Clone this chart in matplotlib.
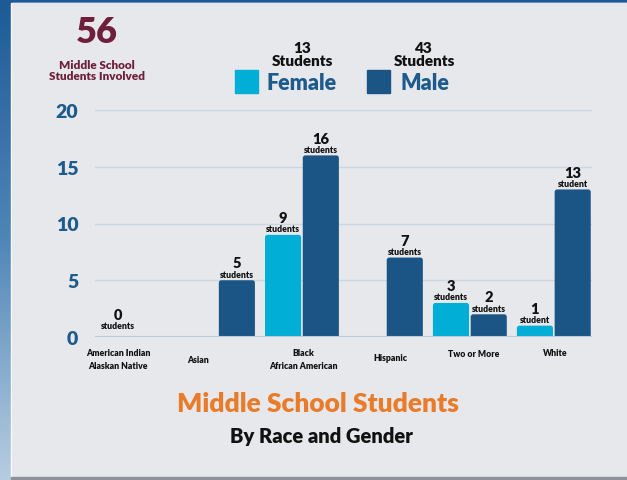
import matplotlib.pyplot as plt
import numpy as np
from matplotlib.patches import Rectangle, FancyBboxPatch

plt.rcParams['font.family'] = ['Lato', 'DejaVu Sans']

# data
categories = ['American Indian\nAlaskan Native', 'Asian', 'Black\nAfrican American',
              'Hispanic', 'Two or More', 'White']
female = [0, 0, 9, 0, 3, 1]
male = [0, 5, 16, 7, 2, 13]
female_total = 13
male_total = 43
total = 56

c_female = '#00aed6'
c_male = '#1a5585'
c_axis = '#1d5b8c'
c_bg = '#e7e8ec'
HW = 'heavy'

fig = plt.figure(figsize=(6.27, 4.81), dpi=100, facecolor=c_bg)

# blue slide frame on the left / top, shadow at the bottom
grad = np.linspace(0, 1, 256).reshape(-1, 1)
bgax = fig.add_axes([0, 0, 1, 1], zorder=-10)
bgax.imshow(grad, aspect='auto', extent=[0, 1, 0, 1], origin='upper',
            cmap=plt.matplotlib.colors.LinearSegmentedColormap.from_list(
                'f', ['#1d5a96', '#4f86b8', '#b7cde0']))
bgax.add_patch(Rectangle((11 / 627, 3 / 481), 1, 1 - 7 / 481, color='white'))
bgax.add_patch(Rectangle((12 / 627, 3 / 481), 1, 1 - 7 / 481, color=c_bg))
bgax.add_patch(Rectangle((11 / 627, 0), 1, 3 / 481, color='#8e9298'))
bgax.set_xlim(0, 1)
bgax.set_ylim(0, 1)
bgax.axis('off')

ax = fig.add_axes([95 / 627, 1 - 338 / 481, 497 / 627, 227 / 481])
ax.set_facecolor('none')

x = np.arange(len(categories))
w = 0.43
off = 0.225
bars_f = ax.bar(x - off, female, w, color=c_female, zorder=3)
bars_m = ax.bar(x + off, male, w, color=c_male, zorder=3)

ax.set_xlim(-0.465, 5.455)
ax.set_ylim(0, 20)

# slightly rounded bar tops
asp = (20 / 227) / (5.92 / 497)
for b in list(bars_f) + list(bars_m):
    if b.get_height() <= 0:
        continue
    b.set_visible(False)
    r = 0.03
    p = FancyBboxPatch((b.get_x() + r, b.get_y()), b.get_width() - 2 * r,
                       b.get_height() - r * asp,
                       boxstyle=f'round,pad={r}', mutation_aspect=asp,
                       fc=b.get_facecolor(), ec='none', zorder=3)
    ax.add_patch(p)

ax.set_yticks([0, 5, 10, 15, 20])
ax.tick_params(axis='y', length=0, labelsize=14, labelcolor=c_axis, pad=12)
for t in ax.get_yticklabels():
    t.set_fontweight(HW)
ax.set_xticks([])
for s in ax.spines.values():
    s.set_visible(False)
ax.grid(axis='y', color='#cdd5de', lw=1, zorder=0)
ax.axhline(0, color='#b9cde0', lw=1.5, zorder=4)


def label(xpos, v):
    word = 'student' if v == 1 or v == 13 else 'students'
    ax.annotate(str(v), (xpos, v), xytext=(0, 12.5), textcoords='offset points',
                ha='center', va='center', fontsize=10.5, fontweight=HW,
                color='#111111', annotation_clip=False)
    ax.annotate(word, (xpos, v), xytext=(0, 4.5), textcoords='offset points',
                ha='center', va='center', fontsize=6.2, fontweight=HW,
                color='#111111', annotation_clip=False)


for i in range(len(categories)):
    if female[i] > 0:
        label(x[i] - off, female[i])
    if male[i] > 0:
        label(x[i] + off, male[i])
    if female[i] == 0 and male[i] == 0:
        ax.annotate('0', (x[i] - 0.19, 0), xytext=(0, 16), textcoords='offset points',
                    ha='center', va='center', fontsize=10.5, fontweight=HW,
                    color='#111111', annotation_clip=False)
        ax.annotate('students', (x[i] - 0.19, 0), xytext=(0, 8),
                    textcoords='offset points', ha='center', va='center',
                    fontsize=6.2, fontweight=HW, color='#111111',
                    annotation_clip=False)

# category names under the axis
shift = [-0.19, -0.24, 0.02, 0.05, 0.04, 0.02]
drop = [16, 16, 16, 15, 12, 11]
for i, name in enumerate(categories):
    ax.annotate(name, (x[i] + shift[i], 0), xytext=(0, -drop[i]),
                textcoords='offset points', ha='center', va='center',
                fontsize=6.2, fontweight=HW, color='#111111',
                linespacing=1.6, annotation_clip=False)

# headline number
fig.text(97 / 627, 1 - 33 / 481, str(total), ha='center', va='center',
         fontsize=26, fontweight=HW, color='#6e1f3a')
fig.text(97 / 627, 1 - 71 / 481, 'Middle School\nStudents Involved', ha='center',
         va='center', fontsize=8.5, fontweight=HW, color='#6e1f3a',
         linespacing=1.1)

# legend
for sq, tx, cx, col, name, n in [(235, 267, 302, c_female, 'Female', female_total),
                                 (367, 400, 424, c_male, 'Male', male_total)]:
    fig.patches.append(Rectangle((sq / 627, 1 - 94 / 481), 23 / 627, 23 / 481,
                                 color=col, transform=fig.transFigure, figure=fig))
    fig.text(tx / 627, 1 - 83 / 481, name, ha='left', va='center', fontsize=15.5,
             fontweight=HW, color=c_axis)
    fig.text(cx / 627, 1 - 55 / 481, f'{n}\nStudents', ha='center', va='center',
             fontsize=11, fontweight=HW, color='#111111', linespacing=1.0)

fig.text(318 / 627, 1 - 404 / 481, 'Middle School Students', ha='center',
         va='center', fontsize=19, fontweight=HW, color='#e87c2a')
fig.text(321 / 627, 1 - 436 / 481, 'By Race and Gender', ha='center',
         va='center', fontsize=14.5, fontweight=HW, color='#111111')

fig.savefig('out.png', dpi=100, facecolor=fig.get_facecolor())
